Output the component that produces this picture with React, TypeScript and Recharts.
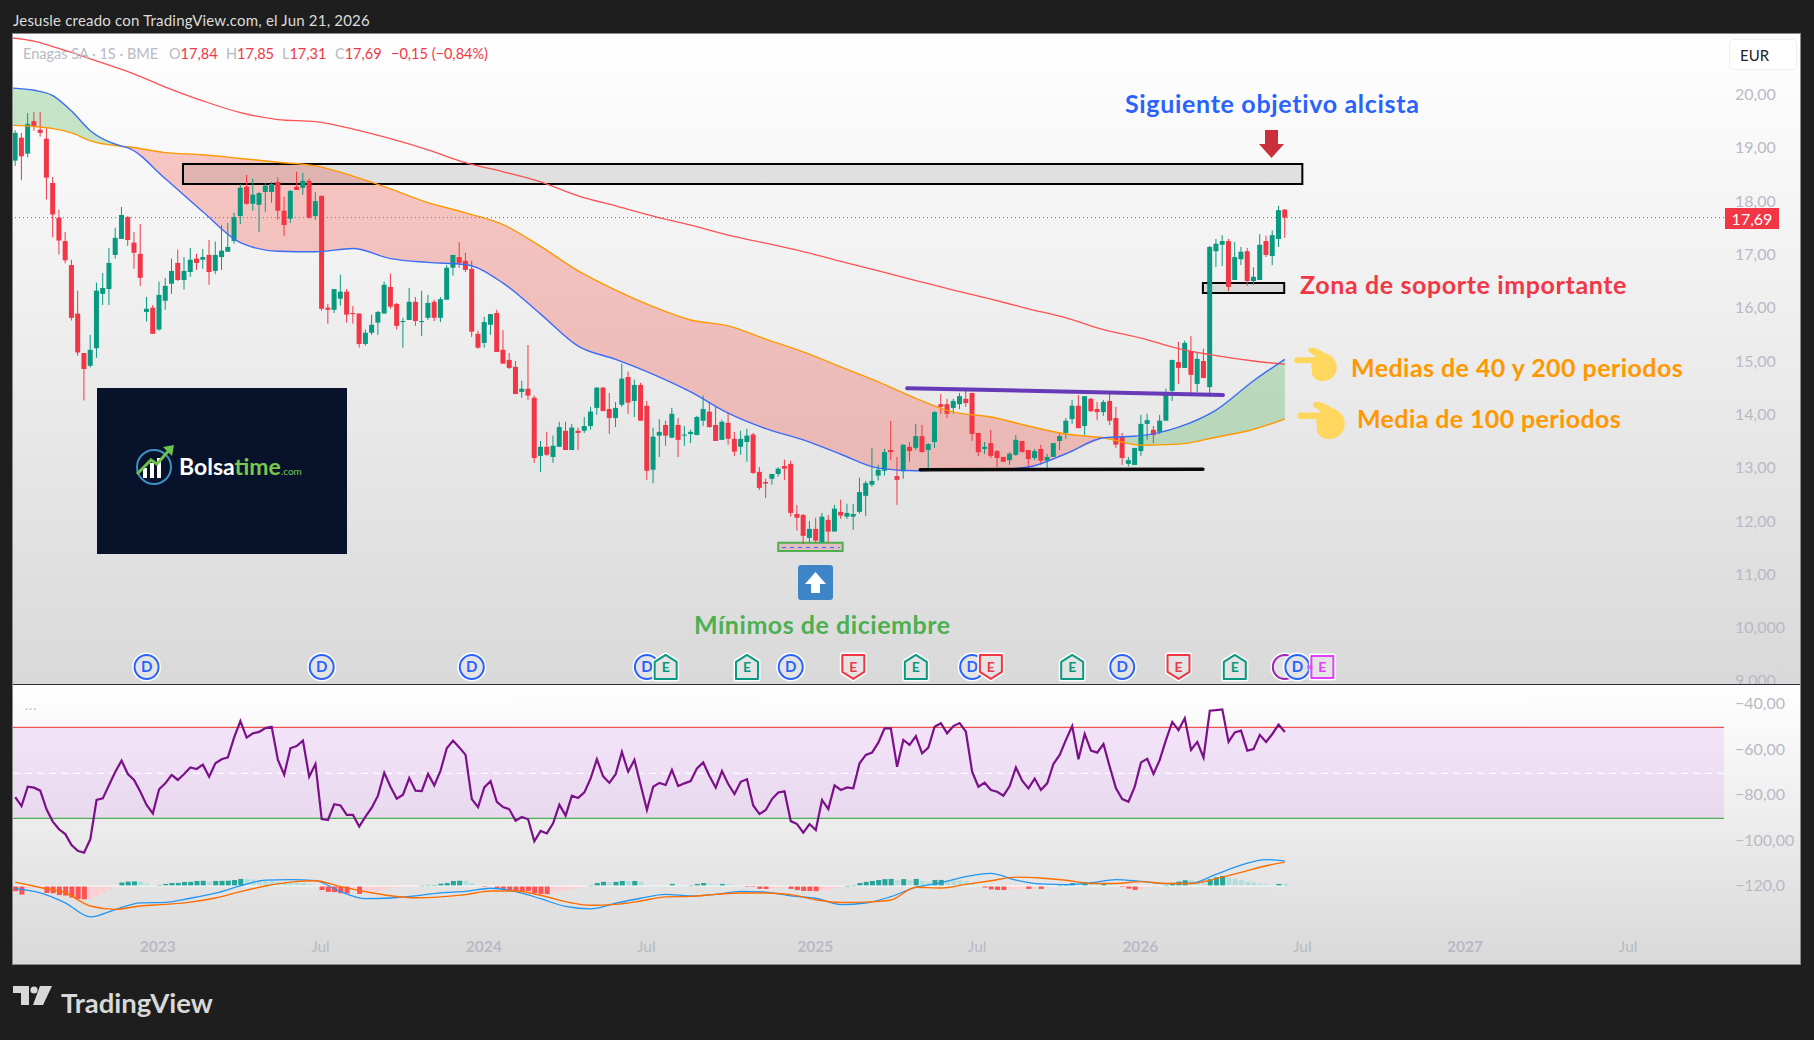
import { Area, Bar, ComposedChart, Line, ReferenceArea, ReferenceDot, ReferenceLine, XAxis, YAxis } from 'recharts';

// weekly candles, first candle sits 23 weeks before Jan 2023
const FIRST_WEEK = -23;

const opens = [
  18.76,19.19,18.89,19.50,19.34,19.17,18.34,17.69,17.25,16.80,
  15.89,15.15,14.91,15.24,16.26,16.35,16.99,17.29,17.70,17.22,
  17.01,15.92,16.00,15.59,16.13,16.45,16.84,16.52,16.67,16.92,
  16.90,16.99,16.69,16.95,17.05,17.25,17.72,18.27,17.95,17.93,
  18.17,18.17,18.36,17.82,17.67,18.27,18.25,18.38,17.72,18.10,
  16.00,15.96,16.17,16.30,15.90,15.89,15.32,15.53,15.72,15.89,
  16.39,16.07,15.73,15.77,16.11,15.73,15.81,16.11,15.81,16.15,
  16.75,16.95,16.88,16.73,15.51,15.34,15.68,15.90,15.21,15.02,
  14.89,14.42,14.48,14.31,13.22,13.39,13.20,13.39,13.69,13.33,
  13.69,13.69,13.78,14.12,14.50,14.10,13.93,14.18,14.70,14.25,
  14.55,14.16,12.96,13.60,13.80,13.56,13.80,13.60,13.63,13.61,
  13.88,14.05,13.80,13.52,13.84,13.54,13.39,13.48,13.62,12.92,
  12.73,12.79,12.88,13.03,13.07,12.13,12.11,11.68,11.85,11.60,
  12.02,11.80,12.17,12.08,12.08,12.17,12.47,12.68,12.85,12.94,
  13.33,12.84,12.93,13.39,13.37,13.59,13.33,13.48,14.19,14.19,
  14.12,14.19,14.29,14.40,13.65,13.35,13.46,13.31,13.20,13.14,
  13.24,13.50,13.33,13.18,13.35,13.13,13.20,13.50,13.65,13.91,
  14.16,13.78,14.29,14.10,14.04,14.25,13.93,13.58,13.07,13.05,
  13.31,13.82,13.71,13.67,13.88,14.44,14.98,14.87,15.19,14.57,
  15.00,14.51,17.06,17.18,17.25,16.52,16.91,17.06,16.50,16.52,
  17.25,16.97,17.29,17.84,
];
const highs = [
  19.33,19.28,19.65,19.67,19.67,19.37,18.45,17.84,17.42,16.90,
  16.32,15.15,15.49,16.47,16.65,17.12,17.50,17.89,17.72,17.42,
  17.57,16.20,16.05,16.49,16.56,16.92,17.09,16.95,17.12,17.01,
  17.10,17.27,17.24,17.55,17.59,17.78,18.32,18.49,18.42,18.17,
  18.34,18.36,18.44,18.08,18.21,18.55,18.53,18.42,18.17,18.10,
  16.07,16.35,16.62,16.35,16.03,15.89,15.59,15.87,15.94,16.49,
  16.64,16.09,15.81,16.37,16.20,16.32,16.24,16.15,16.20,16.80,
  16.99,17.23,17.03,16.88,15.57,15.83,15.88,15.96,15.58,15.15,
  15.00,14.63,15.30,14.35,13.50,13.67,13.60,13.86,13.86,13.82,
  13.75,13.95,14.14,14.51,14.51,14.40,14.23,14.95,14.80,14.65,
  14.59,14.25,13.75,13.91,13.88,14.12,13.93,13.78,13.71,13.97,
  14.35,14.23,14.14,13.90,14.03,13.67,13.69,13.73,13.65,13.01,
  12.79,12.88,13.01,13.15,13.13,12.30,12.13,12.00,12.06,12.15,
  12.11,12.30,12.40,12.32,12.32,12.81,12.75,13.37,13.05,13.35,
  13.88,13.20,13.43,13.48,13.82,13.80,13.46,14.06,14.38,14.29,
  14.29,14.40,14.49,14.40,13.65,13.48,13.71,13.33,13.20,13.29,
  13.61,13.50,13.33,13.35,13.43,13.26,13.46,13.63,13.93,14.27,
  14.36,14.34,14.31,14.23,14.27,14.40,14.14,13.65,13.20,13.37,
  13.99,14.01,13.78,13.99,14.48,15.02,15.36,15.38,15.47,15.15,
  15.23,17.16,17.29,17.36,17.29,17.23,17.14,17.12,16.76,17.38,
  17.35,17.45,17.91,17.85,
];
const lows = [
  18.66,18.39,18.82,19.32,19.21,18.03,17.32,17.00,16.83,15.76,
  15.10,14.26,14.88,15.06,16.05,16.05,16.92,17.29,17.16,16.73,
  16.41,15.74,15.51,15.57,15.96,16.26,16.50,16.34,16.58,16.71,
  16.73,16.43,16.63,16.71,17.05,17.20,17.57,17.93,17.82,17.42,
  17.80,17.97,17.65,17.35,17.59,18.21,18.12,17.67,17.65,15.94,
  15.70,15.90,16.04,15.72,15.70,15.25,15.29,15.49,15.49,15.89,
  15.98,15.59,15.25,15.77,15.66,15.47,15.77,15.75,15.73,16.15,
  16.60,16.75,16.67,15.45,15.23,15.25,15.49,15.17,14.95,14.85,
  14.38,14.31,14.27,13.09,12.92,13.22,13.09,13.39,13.33,13.33,
  13.33,13.65,13.71,13.99,14.06,13.63,13.76,14.14,14.01,13.95,
  13.88,12.77,12.71,13.20,13.41,13.56,13.20,13.41,13.46,13.61,
  13.78,13.75,13.50,13.52,13.43,13.22,13.24,13.11,12.88,12.58,
  12.43,12.68,12.83,12.77,12.08,11.82,11.57,11.60,11.60,11.60,
  11.60,11.80,12.04,12.04,11.83,12.14,12.09,12.64,12.76,12.85,
  13.14,12.30,12.79,13.11,13.33,13.29,12.99,13.37,14.01,13.93,
  14.01,14.10,14.14,13.50,13.22,13.26,13.18,13.01,13.11,13.05,
  13.22,13.29,12.99,13.14,13.05,12.99,13.20,13.33,13.54,13.82,
  13.74,13.61,14.04,13.89,13.97,13.80,13.37,13.05,13.02,13.05,
  13.22,13.52,13.46,13.63,13.88,14.25,14.57,14.87,14.34,14.42,
  14.68,14.33,16.76,16.78,16.31,16.52,16.80,16.41,16.43,16.52,
  16.95,16.80,17.14,17.31,
];
const closes = [
  19.28,18.84,19.45,19.40,19.28,18.44,17.75,17.26,16.89,15.81,
  15.16,14.85,15.21,16.32,16.37,16.84,17.31,17.74,17.27,17.03,
  16.56,15.98,15.51,16.24,16.41,16.69,16.52,16.69,16.90,16.84,
  16.95,16.67,16.99,17.07,17.14,17.70,18.25,17.95,18.12,18.15,
  18.29,18.32,17.82,17.55,18.19,18.21,18.38,17.69,18.00,15.98,
  15.96,16.35,16.30,15.87,15.88,15.32,15.53,15.68,15.92,16.43,
  16.02,15.66,15.75,16.11,15.75,15.75,16.09,15.81,16.16,16.75,
  16.99,16.84,16.71,15.55,15.25,15.73,15.88,15.17,14.95,14.87,
  14.38,14.48,14.35,13.18,13.39,13.24,13.41,13.76,13.33,13.75,
  13.65,13.78,14.05,14.50,14.06,13.93,14.12,14.67,14.22,14.55,
  13.88,12.94,13.58,13.67,13.60,14.01,13.52,13.62,13.67,13.95,
  14.10,13.76,13.50,13.86,13.54,13.30,13.54,13.60,12.90,12.62,
  12.70,12.88,12.98,12.98,12.15,12.06,11.72,11.85,11.63,12.08,
  11.80,12.23,12.10,12.15,12.13,12.54,12.71,12.75,12.96,13.29,
  13.29,12.77,13.43,13.31,13.59,13.29,13.44,14.04,14.14,14.01,
  14.25,14.34,14.21,13.63,13.29,13.39,13.22,13.18,13.11,13.26,
  13.52,13.29,13.16,13.31,13.13,13.20,13.46,13.59,13.88,14.16,
  13.74,14.34,14.06,14.04,14.23,13.88,13.43,13.18,13.14,13.37,
  13.82,13.89,13.61,13.88,14.40,15.02,14.87,15.34,14.74,15.04,
  14.68,17.14,17.20,17.25,16.39,16.95,17.05,16.50,16.58,17.18,
  16.99,17.36,17.83,17.69,
];

// moving averages read every few weeks
const maWeeks = [-23.36,-20,-17,-14,-11,-6,-5,1,7,13,19,25,31,37,43,49,55,61,67,73,79,85,91,97,103,109,115,121,127,133,139,145,151,157,163,169,175,180];
const ma40 = [20.12,20.08,19.98,19.69,19.32,19.03,19.00,18.42,17.80,17.22,17.06,17.05,17.11,16.92,16.85,16.81,16.46,15.88,15.28,15.03,14.75,14.42,14.02,13.73,13.52,13.25,12.99,12.94,12.97,12.96,13.01,13.26,13.56,13.60,13.76,14.08,14.63,15.03];
const ma100 = [19.42,19.40,19.36,19.28,19.13,19.03,19.02,18.91,18.87,18.80,18.73,18.66,18.47,18.23,17.97,17.78,17.56,17.15,16.69,16.33,16.02,15.77,15.66,15.41,15.17,14.89,14.61,14.30,14.04,13.95,13.78,13.63,13.56,13.42,13.44,13.57,13.72,13.91];
const ma200 = [21.06,21.00,20.90,20.79,20.67,20.47,20.43,20.14,19.88,19.66,19.53,19.49,19.35,19.17,18.96,18.72,18.55,18.36,18.10,17.91,17.72,17.55,17.36,17.21,17.05,16.87,16.69,16.51,16.33,16.16,15.98,15.81,15.59,15.43,15.23,15.10,15.00,14.94];

const rsiValues = [
  -81.2,-85.1,-76.6,-77.0,-78.3,-86.5,-91.9,-95.3,-97.4,-102.2,
  -104.7,-105.6,-99.7,-82.4,-81.7,-75.8,-70.0,-65.1,-71.0,-73.6,
  -78.8,-84.6,-88.3,-77.7,-75.1,-71.4,-73.6,-71.0,-68.1,-68.8,
  -66.9,-72.2,-66.3,-64.5,-63.7,-54.9,-47.7,-55.0,-53.1,-52.5,
  -50.8,-50.2,-64.8,-71.3,-59.7,-58.7,-56.3,-72.2,-66.6,-90.8,
  -91.2,-84.3,-84.8,-89.0,-89.0,-94.1,-89.7,-85.8,-80.5,-70.4,
  -76.6,-81.8,-80.1,-72.8,-78.3,-78.5,-71.0,-76.0,-69.5,-59.7,
  -56.3,-59.3,-62.6,-82.0,-85.6,-76.9,-74.1,-83.2,-85.5,-86.5,
  -91.5,-89.9,-90.9,-100.6,-96.0,-97.1,-92.7,-84.5,-89.3,-80.5,
  -81.5,-79.1,-72.9,-64.5,-72.0,-74.9,-71.1,-61.3,-70.0,-64.8,
  -75.8,-86.8,-76.6,-74.9,-75.8,-69.2,-76.3,-75.1,-74.1,-68.5,
  -65.9,-71.9,-77.0,-69.7,-75.4,-79.8,-74.4,-73.3,-84.8,-88.6,
  -86.8,-82.0,-79.1,-78.6,-91.7,-93.0,-96.8,-93.0,-95.6,-82.4,
  -86.4,-76.0,-78.0,-76.9,-77.3,-66.3,-62.6,-61.6,-57.2,-50.9,
  -50.9,-67.8,-56.0,-58.2,-54.3,-61.9,-59.4,-50.2,-48.7,-53.1,
  -49.9,-48.6,-52.4,-70.0,-76.6,-74.8,-78.0,-78.8,-80.5,-76.3,
  -68.1,-73.9,-77.3,-73.0,-78.0,-75.1,-66.6,-62.6,-56.0,-49.9,
  -64.5,-53.4,-60.7,-61.6,-57.8,-67.8,-77.3,-82.0,-83.2,-76.6,
  -65.9,-64.3,-71.0,-64.8,-56.0,-48.1,-51.7,-46.5,-60.4,-56.9,
  -63.8,-43.2,-42.9,-42.6,-56.9,-52.7,-51.9,-60.7,-60.0,-53.8,
  -56.9,-53.4,-49.3,-52.5,
];

const macdWeeks = [-23,-19,-15,-11,-7,-3,1,5,9,13,17,21,25,29,33,37,41,45,49,53,57,61,65,69,73,77,81,85,89,93,97,101,105,109,113,117,121,125,129,133,137,141,145,149,153,157,161,165,169,173,177,180];
const macdLine = [-121.4,-123.2,-127.6,-133.8,-130.6,-127.6,-127.4,-125.6,-123.4,-120.2,-117.6,-117.4,-117.9,-122.7,-125.8,-125.5,-124.6,-123.2,-122.6,-121.2,-122.7,-125.8,-129.2,-130.3,-127.8,-125.6,-123.9,-124.6,-123.9,-122.6,-122.9,-124.6,-125.6,-128.4,-127.7,-124.9,-120.8,-118.8,-116.1,-114.7,-117.6,-119.3,-119.6,-118.8,-117.4,-118.2,-119.2,-119.0,-115.1,-111.0,-108.6,-109.2];
const macdSignal = [-118.5,-120.9,-123.2,-129.0,-130.5,-129.0,-128.3,-127.3,-125.5,-122.7,-120.2,-118.5,-117.9,-120.5,-122.7,-124.5,-125.4,-125.0,-124.0,-122.4,-122.4,-124.3,-127.1,-128.7,-128.3,-126.8,-125.0,-124.8,-123.9,-123.3,-123.3,-124.0,-126.3,-127.5,-127.3,-126.4,-120.8,-121.1,-119.5,-117.9,-116.3,-116.7,-117.7,-119.1,-119.1,-118.3,-119.1,-119.1,-117.0,-114.2,-111.3,-109.7];

const histValues = [
  -2.3,-3.8,-0.9,-0.7,-0.6,-3.1,-3.2,-4.0,-4.2,-5.1,
  -5.7,-5.9,-5.8,-4.7,-3.2,-1.8,-0.3,1.5,1.9,2.0,
  1.9,0.9,0.3,0.4,0.9,1.3,1.35,1.75,1.8,2.2,
  2.25,1.8,2.2,2.25,2.3,2.6,3.1,3.0,2.8,2.5,
  2.4,2.2,1.8,1.6,1.5,1.4,1.3,0.7,0.3,-1.8,
  -2.6,-2.7,-3.2,-3.3,-2.0,-3.5,-2.6,-2.3,-2.2,-1.5,
  -0.9,-0.6,-0.4,-0.35,-0.1,0.3,0.35,0.4,1.0,1.3,
  2.2,2.3,2.2,1.3,0.3,-0.4,-0.1,-0.9,-1.3,-1.8,
  -2.2,-2.25,-2.3,-3.2,-3.5,-3.6,-2.9,-2.3,-2.25,-1.5,
  -0.7,-0.4,0.3,1.3,1.8,1.7,1.8,2.2,2.1,2.2,
  1.8,0.2,0.1,0.05,0.04,0.9,0.2,0.1,0.3,0.9,
  1.3,0.9,0.7,0.9,0.7,0.3,0.1,-0.1,-0.3,-1.3,
  -1.35,-1.0,-0.9,-0.7,-1.3,-1.8,-2.2,-2.25,-2.3,-1.8,
  -1.75,-0.9,-0.4,0.1,0.3,1.3,1.8,2.2,2.6,3.0,
  3.1,2.5,3.0,2.5,3.1,2.2,1.9,2.6,2.65,2.6,
  2.55,2.5,2.2,1.3,0,-0.7,-1.5,-1.75,-1.8,-1.5,
  -1.45,-1.2,-1.3,-1.2,-1.3,-0.6,-0.1,0.3,0.7,1.3,
  0.9,1.6,1.3,1.25,1.3,0.9,0.3,-0.4,-1.2,-1.75,
  -1.3,-0.7,-0.4,-0.1,0.3,1.3,1.9,2.5,2.45,1.8,
  1.3,3.0,3.8,4.4,3.7,3.2,2.6,1.9,1.45,0.9,
  0.7,0.3,0.9,0.8,
];
const HIST_ZERO = -120.2;

const priceTicks = [20, 19, 18, 17, 16, 15, 14, 13, 12, 11, 10, 9];
const priceTickLabels = ['20,00', '19,00', '18,00', '17,00', '16,00', '15,00', '14,00', '13,00', '12,00', '11,00', '10,000', '9,000'];
const oscTicks = [-40, -60, -80, -100, -120];
const oscTickLabels = ['−40,00', '−60,00', '−80,00', '−100,00', '−120,0'];
const timeTicks = [-0.2, 25.8, 51.9, 77.9, 104.9, 130.8, 156.9, 182.8, 208.8, 234.9];
const timeTickLabels = ['2023', 'Jul', '2024', 'Jul', '2025', 'Jul', '2026', 'Jul', '2027', 'Jul'];

const dividendWeeks = [-2, 26, 50, 78, 101, 130, 154];
const earningsBeatWeeks = [81, 94, 121, 146, 172];
const earningsMissWeeks = [111, 133, 163];

const LAST_CLOSE = 17.69;
const X_DOMAIN: [number, number] = [-23.36, 250.22];
const RED = '#f23645';
const GREEN = '#089981';
const FONT = 'Lato, "Open Sans", sans-serif';
const BODY_WIDTH = 5;

const candleRows = opens.map((open, i) => ({
  week: FIRST_WEEK + i,
  open,
  high: highs[i],
  low: lows[i],
  close: closes[i],
  range: [lows[i], highs[i]],
}));

const maRows = maWeeks.map((week, i) => ({ week, ma40: ma40[i], ma100: ma100[i], ma200: ma200[i], cloud: [ma40[i], ma100[i]] }));
const cloudGreenStart = maRows.filter((r) => r.week <= -6);
const cloudRed = maRows.filter((r) => r.week >= -6 && r.week <= 151);
const cloudGreenEnd = maRows.filter((r) => r.week >= 151);

const oscRows = rsiValues.map((rsi, i) => {
  const h = histValues[i];
  const prev = i > 0 ? histValues[i - 1] : 0;
  const color = h >= 0 ? (h > prev ? '#26a69a' : '#b2dfdb') : h > prev ? '#ffcdd2' : '#ff5252';
  return { week: FIRST_WEEK + i, rsi, hist: [HIST_ZERO, HIST_ZERO + h], color };
});
const macdRows = macdWeeks.map((week, i) => ({ week, macd: macdLine[i], signal: macdSignal[i] }));

const Candle = (props: any) => {
  const { x, y, width, height, payload } = props;
  const { open, high, low, close } = payload;
  const py = (v: number) => y + ((high - v) / (high - low)) * height;
  const color = close >= open ? GREEN : RED;
  const top = py(Math.max(open, close));
  const bodyH = Math.max(py(Math.min(open, close)) - top, 1);
  const cx = x + width / 2;
  return (
    <g>
      <line x1={cx} x2={cx} y1={y} y2={y + height} stroke={color} strokeWidth={1} />
      <rect x={cx - BODY_WIDTH / 2} y={top} width={BODY_WIDTH} height={bodyH} fill={color} />
    </g>
  );
};

// negative bars come back with a negative height
const HistBar = (props: any) => {
  const { x, y, width, height, payload } = props;
  const top = Math.min(y, y + height);
  return <rect x={x + width / 2 - BODY_WIDTH / 2} y={top} width={BODY_WIDTH} height={Math.max(Math.abs(height), 1)} fill={payload.color} />;
};

const Dividend = ({ cx, cy, color = '#2962ff', label = 'D' }: any) => (
  <g>
    <circle cx={cx} cy={cy} r={12.5} fill="#e4e4e4" stroke="#fff" strokeWidth={4} />
    <circle cx={cx} cy={cy} r={12} fill="#e4e4e4" stroke={color} strokeWidth={2} />
    <text x={cx} y={cy + 5} textAnchor="middle" fontSize={15} fontWeight={700} fontFamily={FONT} fill={color}>{label}</text>
  </g>
);

const Earnings = ({ cx, cy, color, dir }: any) => {
  const pts =
    dir === 'up'
      ? [[-11, -5], [0, -12], [11, -5], [11, 12], [-11, 12]]
      : dir === 'down'
      ? [[-11, -12], [11, -12], [11, 5], [0, 12], [-11, 5]]
      : [[-11, -11], [11, -11], [11, 11], [-11, 11]];
  const points = pts.map(([a, b]) => `${cx + a},${cy + b}`).join(' ');
  return (
    <g>
      <polygon points={points} fill="#e4e4e4" stroke="#fff" strokeWidth={5} strokeLinejoin="round" />
      <polygon points={points} fill="#e4e4e4" stroke={color} strokeWidth={2} strokeLinejoin="round" />
      <text x={cx} y={cy + 5.5} textAnchor="middle" fontSize={14} fontWeight={700} fontFamily={FONT} fill={color}>E</text>
    </g>
  );
};

const TimeTick = ({ x, y, payload, index }: any) => {
  const label = timeTickLabels[index];
  return (
    <text x={x} y={y + 14} textAnchor="middle" fontSize={15.5} fontFamily={FONT} fontWeight={label === 'Jul' ? 400 : 700} fill="#b8bac4">
      {label}
    </text>
  );
};

const Note = ({ left, top, color, size = 25, spacing = 0.3, children }: any) => (
  <div style={{ position: 'absolute', left, top, transform: 'translateY(-50%)', color, fontFamily: FONT, fontSize: size, fontWeight: 700, letterSpacing: spacing, whiteSpace: 'nowrap', lineHeight: 1 }}>
    {children}
  </div>
);

const Hand = ({ left, top, width, height }: any) => (
  <svg style={{ position: 'absolute', left, top }} width={width} height={height} viewBox="0 0 100 80">
    <rect x="0" y="24" width="62" height="14" rx="7" fill="#ffd75e" />
    <path d="M38 2 C50 0 62 8 72 14 C92 20 100 34 100 48 C100 68 84 80 66 80 C54 80 46 74 42 64 L40 40 L52 26 C46 18 38 14 34 12 C32 6 34 3 38 2 Z" fill="#ffd75e" />
  </svg>
);

const Logo = () => (
  <div style={{ position: 'absolute', left: 97, top: 388, width: 250, height: 166, background: '#08132b' }}>
    <svg style={{ position: 'absolute', left: 36, top: 56 }} width="44" height="42" viewBox="0 0 44 42">
      <circle cx="21" cy="23" r="17" fill="none" stroke="#3f8fc4" strokeWidth="2" />
      <rect x="10" y="24" width="4" height="10" fill="#fff" />
      <rect x="17" y="19" width="4" height="15" fill="#fff" />
      <rect x="24" y="14" width="4" height="20" fill="#fff" />
      <path d="M4 30 L18 16 L24 20 L38 4" fill="none" stroke="#6cc24a" strokeWidth="3" />
      <path d="M30 3 L41 1 L39 12 Z" fill="#6cc24a" />
    </svg>
    <div style={{ position: 'absolute', left: 82, top: 66, fontFamily: FONT, fontSize: 23, fontWeight: 700, color: '#fff', whiteSpace: 'nowrap', lineHeight: 1.1 }}>
      Bolsa<span style={{ color: '#7bc74d' }}>time</span>
      <span style={{ color: '#7bc74d', fontSize: 10, fontWeight: 400 }}>.com</span>
    </div>
  </div>
);

export default function App() {
  return (
    <div style={{ position: 'absolute', left: 0, top: 0, width: 1814, height: 1040, background: '#1e1e1e', overflow: 'hidden' }}>
      <div style={{ position: 'absolute', left: 13, top: 20, transform: 'translateY(-50%)', color: '#dcdcdc', fontFamily: FONT, fontSize: 15, letterSpacing: 0.2, whiteSpace: 'nowrap' }}>
        Jesusle creado con TradingView.com, el Jun 21, 2026
      </div>

      <div style={{ position: 'absolute', left: 12, top: 33, width: 1787, height: 930, border: '1px solid #8a8a8a' }} />

      <div style={{ position: 'absolute', left: 13, top: 34, width: 1787, height: 650, overflow: 'hidden', background: 'linear-gradient(#ffffff, #d9d9d9)' }}>
        <ComposedChart width={1787} height={650} data={candleRows} margin={{ top: 0, right: 0, bottom: 0, left: 0 }}>
          <XAxis dataKey="week" type="number" domain={X_DOMAIN} allowDataOverflow hide />
          <YAxis
            orientation="right"
            width={76}
            domain={[8.94, 21.135]}
            allowDataOverflow
            ticks={priceTicks}
            interval={0}
            axisLine={false}
            tickLine={false}
            tickMargin={5}
            tick={{ fontSize: 16, fontFamily: FONT, fill: '#b8bac4' }}
            tickFormatter={(v: number) => priceTickLabels[priceTicks.indexOf(v)]}
          />
          <ReferenceArea x1={166.9} x2={179.9} y1={16.276} y2={16.463} fill="#000" fillOpacity={0.09} stroke="#000" strokeWidth={2} />
          <ReferenceArea x1={99} x2={109.3} y1={11.435} y2={11.59} fill="#f23645" fillOpacity={0.2} stroke="#4caf50" strokeWidth={2} />
          <ReferenceLine segment={[{ x: 99.6, y: 11.5 }, { x: 108.8, y: 11.5 }]} stroke="#2962ff" strokeWidth={1} strokeDasharray="4 4" />
          <Bar dataKey="range" shape={<Candle />} barSize={5} isAnimationActive={false} />
          <Area data={cloudGreenStart} dataKey="cloud" type="monotone" stroke="none" fill="#4caf50" fillOpacity={0.3} isAnimationActive={false} dot={false} activeDot={false} />
          <Area data={cloudRed} dataKey="cloud" type="monotone" stroke="none" fill="#f44336" fillOpacity={0.28} isAnimationActive={false} dot={false} activeDot={false} />
          <Area data={cloudGreenEnd} dataKey="cloud" type="monotone" stroke="none" fill="#4caf50" fillOpacity={0.3} isAnimationActive={false} dot={false} activeDot={false} />
          <Line data={maRows} dataKey="ma200" type="monotone" stroke="#ff5252" strokeWidth={1.3} dot={false} isAnimationActive={false} />
          <Line data={maRows} dataKey="ma100" type="monotone" stroke="#ff9800" strokeWidth={1.4} dot={false} isAnimationActive={false} />
          <Line data={maRows} dataKey="ma40" type="monotone" stroke="#3a6cf4" strokeWidth={1.4} dot={false} isAnimationActive={false} />
          <ReferenceLine y={LAST_CLOSE} stroke={RED} strokeDasharray="1 3" strokeWidth={1} />
          <ReferenceArea x1={3.82} x2={182.8} y1={18.321} y2={18.696} fill="#000" fillOpacity={0.09} stroke="#000" strokeWidth={2} />
          <ReferenceLine segment={[{ x: 119.6, y: 14.49 }, { x: 170.1, y: 14.36 }]} stroke="#673ab7" strokeWidth={4} strokeLinecap="round" />
          <ReferenceLine segment={[{ x: 121.7, y: 12.96 }, { x: 166.9, y: 12.97 }]} stroke="#0a0a0a" strokeWidth={3.5} strokeLinecap="round" />
          {dividendWeeks.map((w) => (
            <ReferenceDot key={`d${w}`} x={w} y={9.26} shape={(p: any) => <Dividend cx={p.cx} cy={p.cy} />} />
          ))}
          {earningsBeatWeeks.map((w) => (
            <ReferenceDot key={`u${w}`} x={w} y={9.26} shape={(p: any) => <Earnings cx={p.cx} cy={p.cy} color={GREEN} dir="up" />} />
          ))}
          {earningsMissWeeks.map((w) => (
            <ReferenceDot key={`m${w}`} x={w} y={9.26} shape={(p: any) => <Earnings cx={p.cx} cy={p.cy} color={RED} dir="down" />} />
          ))}
          <ReferenceDot x={180} y={9.26} shape={(p: any) => <Dividend cx={p.cx} cy={p.cy} color="#9c27b0" label=":" />} />
          <ReferenceDot x={182} y={9.26} shape={(p: any) => <Dividend cx={p.cx} cy={p.cy} />} />
          <ReferenceDot x={186} y={9.26} shape={(p: any) => <Earnings cx={p.cx} cy={p.cy} color="#e040fb" dir="flat" />} />
          <ReferenceDot
            x={184}
            y={9.26}
            shape={(p: any) => (
              <text x={p.cx} y={p.cy + 5} textAnchor="middle" fontSize={14} fontWeight={700} fontFamily={FONT} fill="#e040fb">≈</text>
            )}
          />
        </ComposedChart>
      </div>

      <div style={{ position: 'absolute', left: 13, top: 684, width: 1787, height: 280, overflow: 'hidden', background: 'linear-gradient(#ffffff, #d9d9d9)' }}>
        <ComposedChart width={1787} height={280} data={oscRows} margin={{ top: 0, right: 0, bottom: 0, left: 0 }}>
          <XAxis
            dataKey="week"
            type="number"
            domain={X_DOMAIN}
            allowDataOverflow
            ticks={timeTicks}
            interval={0}
            height={34}
            axisLine={false}
            tickLine={false}
            tick={<TimeTick />}
          />
          <YAxis
            orientation="right"
            width={76}
            domain={[-139.56, -31.43]}
            allowDataOverflow
            ticks={oscTicks}
            interval={0}
            axisLine={false}
            tickLine={false}
            tickMargin={5}
            tick={{ fontSize: 16, fontFamily: FONT, fill: '#b8bac4' }}
            tickFormatter={(v: number) => oscTickLabels[oscTicks.indexOf(v)]}
          />
          <ReferenceArea y1={-90.5} y2={-50.5} fill="#c846ff" fillOpacity={0.12} stroke="none" />
          <ReferenceLine y={-50.5} stroke="#ef5350" strokeWidth={1.3} />
          <ReferenceLine y={-90.5} stroke="#4caf50" strokeWidth={1.3} />
          <ReferenceLine y={-70.7} stroke="#fff" strokeWidth={1.2} strokeDasharray="7 5" />
          <Bar dataKey="hist" shape={<HistBar />} barSize={5} isAnimationActive={false} />
          <ReferenceLine segment={[{ x: -23.36, y: HIST_ZERO }, { x: 180, y: HIST_ZERO }]} stroke="#fff" strokeWidth={1} />
          <Line dataKey="rsi" type="linear" stroke="#7b1088" strokeWidth={2.2} dot={false} isAnimationActive={false} />
          <Line data={macdRows} dataKey="macd" type="monotone" stroke="#2196f3" strokeWidth={1.3} dot={false} isAnimationActive={false} />
          <Line data={macdRows} dataKey="signal" type="monotone" stroke="#ff6d00" strokeWidth={1.4} dot={false} isAnimationActive={false} />
        </ComposedChart>
      </div>

      <div style={{ position: 'absolute', left: 13, top: 684, width: 1787, height: 1, background: '#2a2e39' }} />

      <div style={{ position: 'absolute', left: 23, top: 53, transform: 'translateY(-50%)', fontFamily: FONT, fontSize: 14.5, color: '#b8bac4', whiteSpace: 'nowrap' }}>Enagas SA · 1S · BME</div>
      <Legend left={169} letter="O" value="17,84" />
      <Legend left={226} letter="H" value="17,85" />
      <Legend left={282} letter="L" value="17,31" />
      <Legend left={335} letter="C" value="17,69" />
      <div style={{ position: 'absolute', left: 391, top: 53, transform: 'translateY(-50%)', fontFamily: FONT, fontSize: 14.5, color: RED, whiteSpace: 'nowrap' }}>−0,15 (−0,84%)</div>

      <div style={{ position: 'absolute', left: 1729, top: 39, width: 68, height: 31, boxSizing: 'border-box', border: '1px solid #eeeeee', borderRadius: 4, background: '#fff', color: '#222', fontFamily: FONT, fontSize: 15, paddingLeft: 10, lineHeight: '31px' }}>EUR</div>

      <div style={{ position: 'absolute', left: 1725, top: 208, width: 54, height: 21, background: RED, color: '#fff', fontFamily: FONT, fontSize: 16, textAlign: 'center', lineHeight: '21px' }}>17,69</div>

      <Note left={1125} top={103} color="#2962ff" spacing={0.68}>Siguiente objetivo alcista</Note>
      <Note left={1300} top={284} color={RED} spacing={0.62}>Zona de soporte importante</Note>
      <Note left={1351} top={367} color="#ff9800" spacing={0.44}>Medias de 40 y 200 periodos</Note>
      <Note left={1357} top={418} color="#ff9800" spacing={0.38}>Media de 100 periodos</Note>
      <Note left={694} top={624} color="#4caf50" spacing={0.53}>Mínimos de diciembre</Note>

      <Hand left={1293} top={347} width={45} height={34} />
      <Hand left={1296} top={401} width={50} height={38} />

      <svg style={{ position: 'absolute', left: 1259, top: 130 }} width="25" height="28" viewBox="0 0 25 28">
        <path d="M6 0 H19 V14 H25 L12.5 28 L0 14 H6 Z" fill="#cc2f3c" />
      </svg>
      <svg style={{ position: 'absolute', left: 798, top: 565 }} width="35" height="35" viewBox="0 0 35 35">
        <rect width="35" height="35" rx="3" fill="#3d85c6" />
        <path d="M17.5 7 L28 19 H22 V28 H13 V19 H7 Z" fill="#fff" />
      </svg>

      <Logo />

      <div style={{ position: 'absolute', left: 25, top: 697, fontFamily: FONT, fontSize: 13, color: '#b8bac4', letterSpacing: 1 }}>...</div>

      <svg style={{ position: 'absolute', left: 13, top: 985 }} width="40" height="22" viewBox="0 0 40 22">
        <path d="M0 1 H16 V20 H8 V8 H0 Z" fill="#d8d8d8" />
        <circle cx="21" cy="5" r="3.6" fill="#d8d8d8" />
        <path d="M27 1 H39 L30 20 H20 Z" fill="#d8d8d8" />
      </svg>
      <div style={{ position: 'absolute', left: 61, top: 1002, transform: 'translateY(-50%)', color: '#d8d8d8', fontFamily: FONT, fontSize: 27.5, fontWeight: 700, whiteSpace: 'nowrap' }}>TradingView</div>
    </div>
  );
}

function Legend({ left, letter, value }: { left: number; letter: string; value: string }) {
  return (
    <div style={{ position: 'absolute', left, top: 53, transform: 'translateY(-50%)', fontFamily: FONT, fontSize: 14.5, whiteSpace: 'nowrap' }}>
      <span style={{ color: '#b8bac4' }}>{letter}</span>
      <span style={{ color: RED }}>{value}</span>
    </div>
  );
}
